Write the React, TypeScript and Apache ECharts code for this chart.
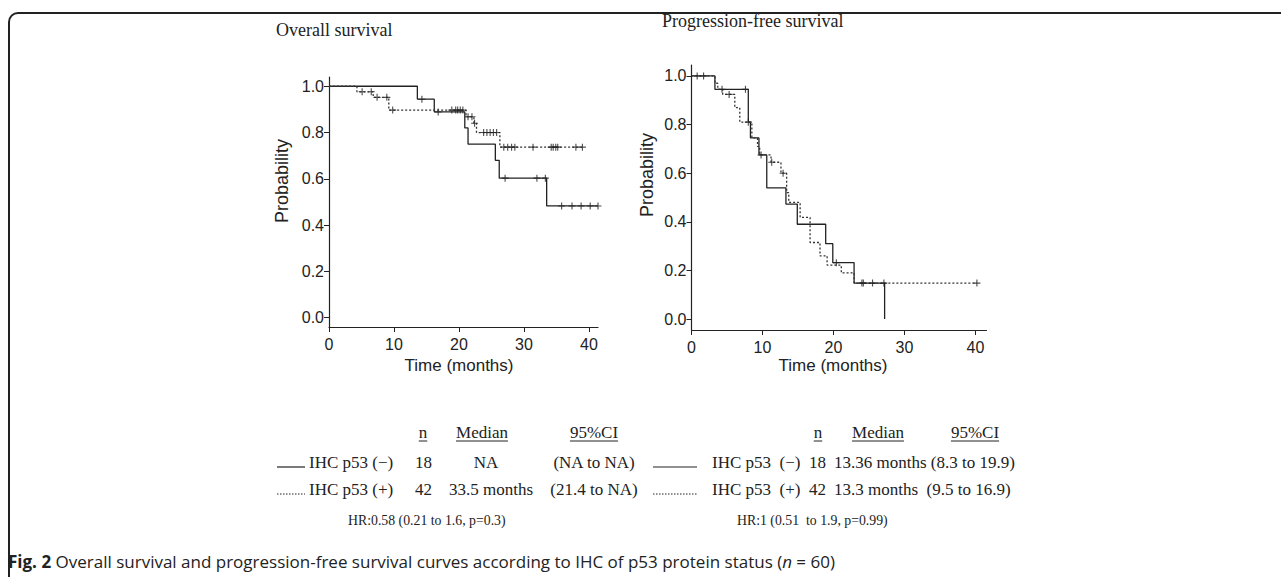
import React, { useEffect, useRef } from "react";
import * as echarts from "echarts";

// ---- axis ticks ----
const xTicks = [0, 10, 20, 30, 40];
const yTicks = [0, 0.2, 0.4, 0.6, 0.8, 1.0];

// ---- Overall survival: IHC p53 (−) solid ----
const osNegT = [0, 13.6, 16.2, 20.9, 21.4, 25.6, 26.2, 33.5, 41.4];
const osNegS = [1, 0.944, 0.889, 0.82, 0.75, 0.68, 0.603, 0.483, 0.483];
const osNegCensT = [14.3, 16.8, 27.1, 32.0, 33.3, 35.8, 37.4, 38.8, 40.2, 41.4];
const osNegCensS = [0.944, 0.889, 0.603, 0.603, 0.603, 0.483, 0.483, 0.483, 0.483, 0.483];

// ---- Overall survival: IHC p53 (+) dashed ----
const osPosT = [0, 4.3, 6.8, 9.2, 21.1, 22.3, 22.7, 26.3, 39.0];
const osPosS = [1, 0.976, 0.952, 0.897, 0.868, 0.84, 0.8, 0.737, 0.737];
const osPosCensT = [5.1, 6.5, 7.4, 8.9, 9.8, 18.9, 19.5, 19.8, 20.2, 20.6, 21.4, 22.0, 22.4, 23.8, 24.3, 24.8, 25.3, 25.8, 26.9, 27.5, 28.1, 28.6, 31.4, 34.2, 34.5, 34.9, 35.2, 38.0, 39.0];
const osPosCensS = [0.976, 0.976, 0.952, 0.952, 0.897, 0.897, 0.897, 0.897, 0.897, 0.897, 0.868, 0.868, 0.84, 0.8, 0.8, 0.8, 0.8, 0.8, 0.737, 0.737, 0.737, 0.737, 0.737, 0.737, 0.737, 0.737, 0.737, 0.737, 0.737];

// ---- Progression-free survival: IHC p53 (−) solid ----
const pfsNegT = [0, 3.3, 8.0, 8.3, 9.5, 10.6, 13.3, 14.9, 18.9, 19.9, 22.9, 27.2];
const pfsNegS = [1, 0.945, 0.81, 0.745, 0.675, 0.54, 0.473, 0.39, 0.31, 0.232, 0.148, 0];
const pfsNegCensT = [4.3, 7.6, 8.0, 9.8, 20.4, 24.2, 25.5, 27.1];
const pfsNegCensS = [0.945, 0.945, 0.81, 0.675, 0.232, 0.148, 0.148, 0.148];

// ---- Progression-free survival: IHC p53 (+) dashed ----
const pfsPosT = [0, 3.3, 3.7, 4.4, 6.1, 6.8, 8.5, 9.3, 9.6, 11.2, 12.6, 13.4, 13.7, 15.3, 16.7, 18.1, 19.1, 21.1, 22.9, 40.2];
const pfsPosS = [1, 0.97, 0.945, 0.924, 0.87, 0.81, 0.745, 0.71, 0.675, 0.645, 0.6, 0.52, 0.48, 0.418, 0.315, 0.26, 0.222, 0.19, 0.148, 0.148];
const pfsPosCensT = [0.8, 1.7, 5.3, 11.3, 12.9, 24.0, 40.2];
const pfsPosCensS = [1, 1, 0.924, 0.645, 0.6, 0.148, 0.148];

// ---- texts ----
const leftTitle = "Overall survival";
const rightTitle = "Progression-free survival";
const yName = "Probability";
const xName = "Time (months)";
const headers = ["n", "Median", "95%CI"];
const groups = ["IHC p53 (−)", "IHC p53 (+)"];
const groupsR = ["IHC p53  (−)", "IHC p53  (+)"];
const nVals = ["18", "42"];
const osMedian = ["NA", "33.5 months"];
const osCI = ["(NA to NA)", "(21.4 to NA)"];
const pfsMedianCI = ["13.36 months (8.3 to 19.9)", "13.3 months  (9.5 to 16.9)"];
const osHR = "HR:0.58 (0.21 to 1.6, p=0.3)";
const pfsHR = "HR:1 (0.51  to 1.9, p=0.99)";

const pair = (t: number[], s: number[]) => t.map((v, i) => [v, s[i]]);

const INK = "#222";
const SERIF = "'Liberation Serif', 'Times New Roman', serif";
const SANS = "'Liberation Sans', Arial, sans-serif";
const CROSS = "path://M-0.16,-1H0.16V-0.16H1V0.16H0.16V1H-0.16V0.16H-1V-0.16H-0.16Z";

function measure(text: string, font: string) {
  const c = document.createElement("canvas").getContext("2d")!;
  c.font = font;
  return c.measureText(text).width;
}

export default function App() {
  const ref = useRef<HTMLDivElement>(null);
  useEffect(() => {
    const chart = echarts.init(ref.current!, undefined, { renderer: "svg" });
    const fs = 17;

    const txt = (text: string, x: number, y: number, align = "left", size = fs, sx = 1) => ({
      type: "text",
      x,
      y,
      scaleX: sx,
      style: { text, fill: INK, font: `${size}px ${SERIF}`, align, verticalAlign: "middle" },
    });
    const hline = (x1: number, x2: number, y: number, dash: any = "solid", w = 1) => ({
      type: "line",
      shape: { x1, y1: y, x2, y2: y },
      style: { stroke: INK, lineWidth: w, lineDash: dash === "solid" ? null : dash },
    });
    const underlined = (text: string, cx: number, y: number) => {
      const w = measure(text, `${fs}px 'Liberation Serif'`);
      return [txt(text, cx, y, "center"), hline(cx - w / 2, cx + w / 2, y + 9, "solid", 1)];
    };

    const axisCommon = {
      axisLine: { show: true, onZero: false, lineStyle: { color: INK, width: 1.2 } },
      splitLine: { show: false },
    };
    const mkX = (gi: number, max: number) => ({
      type: "value",
      gridIndex: gi,
      min: 0,
      max,
      ...axisCommon,
      axisTick: { show: true, customValues: xTicks, length: 5, lineStyle: { color: INK, width: 1 } },
      axisLabel: { customValues: xTicks, fontSize: 16, color: INK, fontFamily: SANS, margin: 9 },
    });
    const mkY = (gi: number, pad: number) => ({
      type: "value",
      gridIndex: gi,
      min: -pad,
      max: 1 + pad,
      ...axisCommon,
      axisTick: { show: true, customValues: yTicks, length: 5, lineStyle: { color: INK, width: 1 } },
      axisLabel: {
        customValues: yTicks,
        fontSize: 16,
        color: INK,
        fontFamily: SANS,
        margin: 5,
        formatter: (v: number) => v.toFixed(1),
      },
    });

    const stepSeries = (gi: number, t: number[], s: number[], dashed: boolean) => ({
      type: "line",
      xAxisIndex: gi,
      yAxisIndex: gi,
      step: "end",
      symbol: "none",
      data: pair(t, s),
      lineStyle: { color: dashed ? "#333" : INK, width: 1.3, type: dashed ? [2, 2] : "solid" },
      z: 3,
    });
    const censSeries = (gi: number, t: number[], s: number[]) => ({
      type: "scatter",
      xAxisIndex: gi,
      yAxisIndex: gi,
      symbol: CROSS,
      symbolSize: 7,
      data: pair(t, s),
      itemStyle: { color: INK },
      z: 4,
    });

    const rotText = (x: number, y: number) => ({
      type: "text",
      x,
      y,
      rotation: Math.PI / 2,
      style: { text: yName, fill: INK, font: `18px ${SANS}`, align: "center", verticalAlign: "middle" },
    });

    const graphic: any[] = [
      // frame
      { type: "line", shape: { x1: 9, y1: 22, x2: 9, y2: 577 }, style: { stroke: INK, lineWidth: 2 } },
      { type: "line", shape: { x1: 18, y1: 13, x2: 1281, y2: 13 }, style: { stroke: INK, lineWidth: 2 } },
      {
        type: "arc",
        shape: { cx: 18, cy: 22, r: 9, startAngle: Math.PI, endAngle: Math.PI * 1.5, clockwise: true },
        style: { stroke: INK, lineWidth: 2, fill: "none" },
      },
      // titles
      txt(leftTitle, 276, 30, "left", 18),
      txt(rightTitle, 662, 21, "left", 18),
      // axis names
      rotText(282, 181),
      rotText(647, 175),
      { type: "text", x: 459, y: 365, style: { text: xName, fill: INK, font: `17px ${SANS}`, align: "center", verticalAlign: "middle" } },
      { type: "text", x: 833, y: 365, style: { text: xName, fill: INK, font: `17px ${SANS}`, align: "center", verticalAlign: "middle" } },
      // left table
      ...underlined(headers[0], 423, 432),
      ...underlined(headers[1], 482, 432),
      ...underlined(headers[2], 594, 432),
      hline(277, 305, 467, "solid", 1.2),
      hline(277, 305, 494, [1.5, 1.5], 1.2),
      txt(groups[0], 309, 462),
      txt(groups[1], 309, 489),
      txt(nVals[0], 415, 462),
      txt(nVals[1], 415, 489),
      txt(osMedian[0], 486, 462, "center"),
      txt(osMedian[1], 491, 489, "center"),
      txt(osCI[0], 594, 462, "center"),
      txt(osCI[1], 594, 489, "center"),
      txt(osHR, 348, 520, "left", 15, 0.92),
      // right table
      ...underlined(headers[0], 818, 432),
      ...underlined(headers[1], 878, 432),
      ...underlined(headers[2], 975, 432),
      hline(653, 697, 467, "solid", 1.2),
      hline(653, 697, 494, [1.5, 1.5], 1.2),
      txt(groupsR[0], 712, 462),
      txt(groupsR[1], 712, 489),
      txt(nVals[0], 809, 462),
      txt(nVals[1], 809, 489),
      txt(pfsMedianCI[0], 834, 462),
      txt(pfsMedianCI[1], 834, 489),
      txt(pfsHR, 737, 520, "left", 15, 0.92),
      // caption
      {
        type: "text",
        x: 8,
        y: 561,
        style: {
          text: "{b|Fig. 2} Overall survival and progression-free survival curves according to IHC of p53 protein status ({i|n} = 60)",
          fill: INK,
          font: `17px 'Open Sans', sans-serif`,
          verticalAlign: "middle",
          rich: {
            b: { fontWeight: "bold", fontSize: 17, fontFamily: "Open Sans", fill: INK },
            i: { fontStyle: "italic", fontSize: 17, fontFamily: "Open Sans", fill: INK },
          },
        },
      },
    ];

    chart.setOption({
      animation: false,
      backgroundColor: "#fff",
      grid: [
        { left: 329, top: 77, width: 269, height: 250 },
        { left: 691.5, top: 65, width: 295, height: 265 },
      ],
      xAxis: [mkX(0, 41.4), mkX(1, 41.55)],
      yAxis: [mkY(0, 0.04), mkY(1, 0.045)],
      series: [
        stepSeries(0, osNegT, osNegS, false),
        stepSeries(0, osPosT, osPosS, true),
        censSeries(0, osNegCensT, osNegCensS),
        censSeries(0, osPosCensT, osPosCensS),
        stepSeries(1, pfsNegT, pfsNegS, false),
        stepSeries(1, pfsPosT, pfsPosS, true),
        censSeries(1, pfsNegCensT, pfsNegCensS),
        censSeries(1, pfsPosCensT, pfsPosCensS),
      ],
      graphic,
    });
    return () => chart.dispose();
  }, []);
  return <div ref={ref} style={{ position: "fixed", left: 0, top: 0, width: 1281, height: 577, background: "#fff" }} />;
}
